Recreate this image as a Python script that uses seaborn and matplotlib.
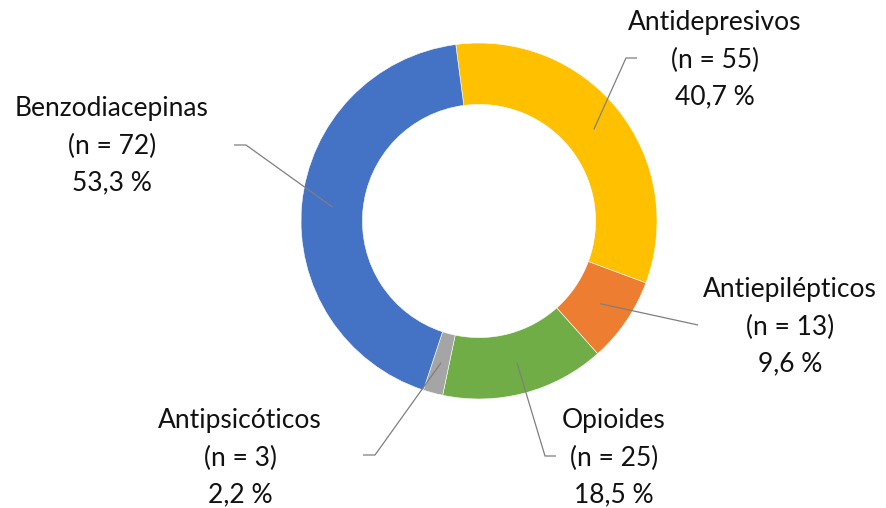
import numpy as np
import matplotlib.pyplot as plt
import seaborn as sns

# datos
categorias = ["Antidepresivos", "Antiepilépticos", "Opioides", "Antipsicóticos", "Benzodiacepinas"]
n_casos = [55, 13, 25, 3, 72]
porcentajes = [40.7, 9.6, 18.5, 2.2, 53.3]
colores = ["#FFC000", "#ED7D31", "#70AD47", "#A5A5A5", "#4472C4"]

sns.set_theme(style="white")
plt.rcParams["font.family"] = ["Lato", "DejaVu Sans"]

W, H = 887, 508
CX, CY, R = 479, 221, 178  # centro y radio del anillo en pixeles


def px(x, y):
    """pixeles de la imagen -> coordenadas del eje"""
    return (x - CX) / R, (CY - y) / R


fig = plt.figure(figsize=(W / 100, H / 100), dpi=100)
ax = fig.add_axes([0, 0, 1, 1])

wedges, _ = ax.pie(
    n_casos, colors=colores, startangle=97.5, counterclock=False,
    radius=1.0, wedgeprops=dict(width=0.345, edgecolor="white", linewidth=0.4),
)

# posicion del texto (centro de la linea media) y trazo de la linea guia
etiquetas = {
    "Antidepresivos": ((715, 60), [(626, 58), (637, 58)]),
    "Antiepilépticos": ((790, 327), [(698, 325)]),
    "Opioides": ((614, 458), [(545, 456), (556, 456)]),
    "Antipsicóticos": ((240, 458), [(375, 455), (363, 455)]),
    "Benzodiacepinas": ((112, 146), [(246, 145), (234, 145)]),
}

for w, cat, n, p in zip(wedges, categorias, n_casos, porcentajes):
    (tx, ty), guia = etiquetas[cat]
    ang = np.deg2rad((w.theta1 + w.theta2) / 2)
    pts = [(0.825 * np.cos(ang), 0.825 * np.sin(ang))] + [px(*g) for g in guia]
    xs, ys = zip(*pts)
    ax.plot(xs, ys, color="#7f7f7f", lw=0.9, solid_capstyle="butt")
    pct = f"{p:.1f}".replace(".", ",")
    x, y = px(tx, ty)
    ax.text(x, y, f"{cat}\n(n = {n})\n{pct} %", ha="center", va="center",
            fontsize=19, color="#111111", linespacing=1.6)

ax.set_xlim(-CX / R, (W - CX) / R)
ax.set_ylim(-(H - CY) / R, CY / R)
ax.set_aspect("auto")
ax.axis("off")

fig.savefig("out.png", dpi=100, facecolor="white")
